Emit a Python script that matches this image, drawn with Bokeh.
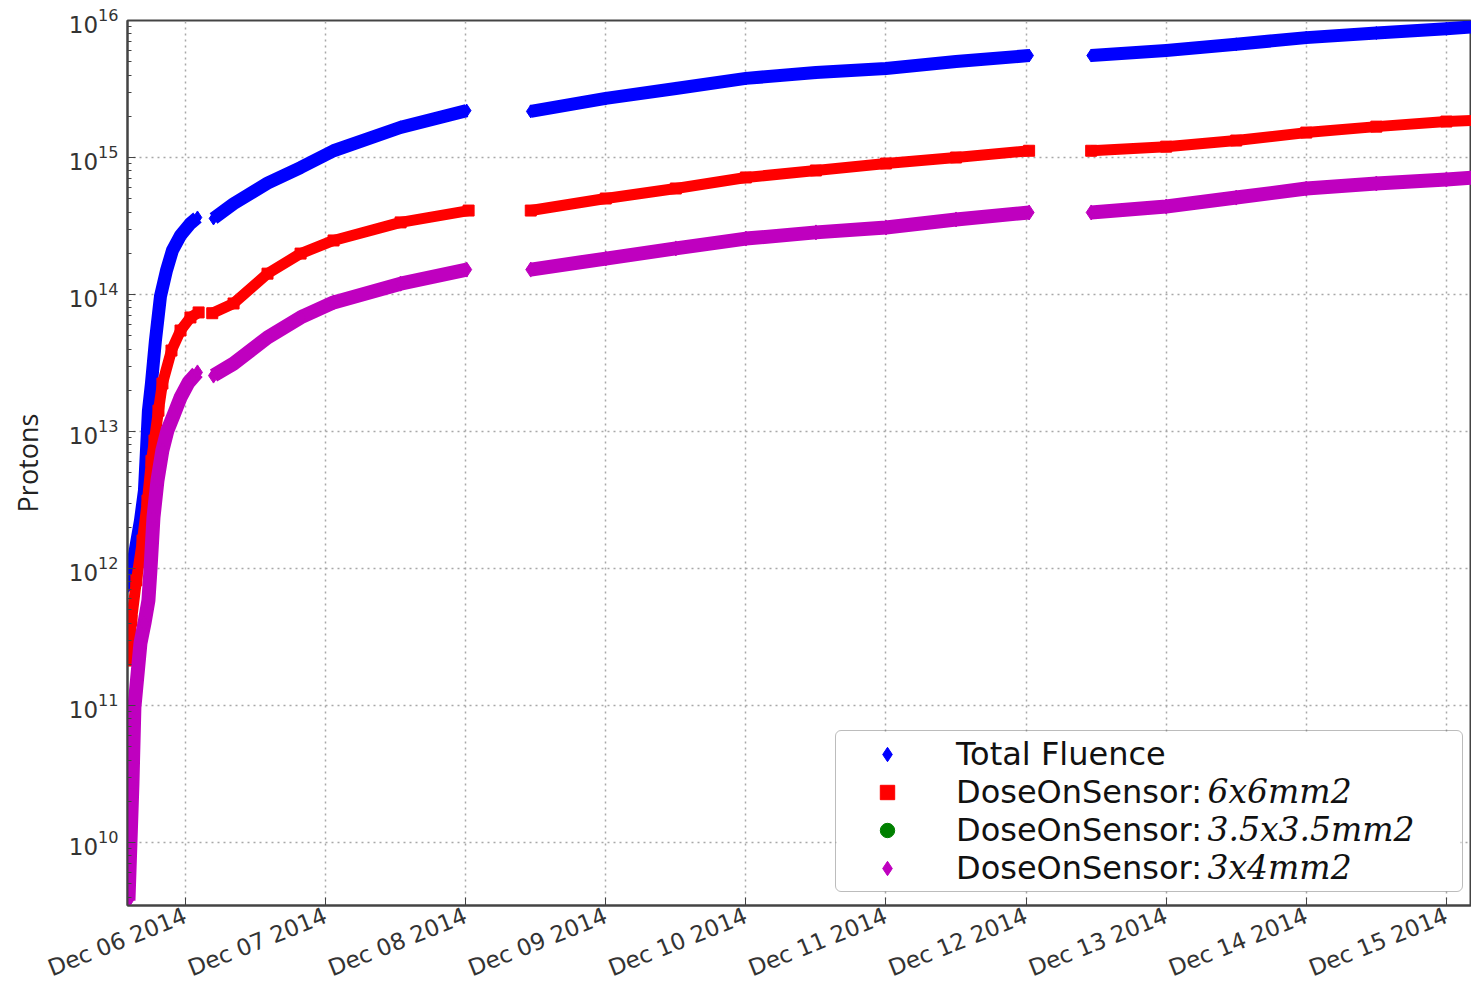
import numpy as np
import pandas as pd
from bokeh.plotting import figure
from bokeh.core.properties import value
from bokeh.models import (Range1d, FixedTicker, LogTickFormatter, DaysTicker,
                          DatetimeTickFormatter, Legend, LegendItem, BoxAnnotation)
from bokeh.embed import file_html
from bokeh.resources import INLINE

# Cumulative proton counts; None separates the data-taking periods.
fluence_t = [
    "2014-12-05 14:14", "2014-12-05 15:05", "2014-12-05 16:17", "2014-12-05 16:58",
    "2014-12-05 17:19", "2014-12-05 17:39", "2014-12-05 18:10", "2014-12-05 18:51",
    "2014-12-05 19:43", "2014-12-05 20:45", "2014-12-05 21:46", "2014-12-05 23:09",
    "2014-12-06 00:51", "2014-12-06 02:03", None,
    "2014-12-06 04:48", "2014-12-06 08:14", "2014-12-06 14:03", "2014-12-06 19:43",
    "2014-12-07 01:22", "2014-12-07 12:51", "2014-12-08 00:10", None,
    "2014-12-08 11:09", "2014-12-09 00:00", "2014-12-09 12:00", "2014-12-10 00:00",
    "2014-12-10 12:00", "2014-12-11 00:00", "2014-12-11 12:00", "2014-12-12 00:31", None,
    "2014-12-12 11:09", "2014-12-13 00:00", "2014-12-13 12:00", "2014-12-14 00:00",
    "2014-12-14 12:00", "2014-12-15 00:00", "2014-12-15 06:00",
]
fluence = [
    7.5e11, 1.14e12, 2.24e12, 3.7e12, 7.3e12, 1.42e13, 2.24e13, 4.6e13,
    9.7e13, 1.5e14, 2.1e14, 2.7e14, 3.3e14, 3.65e14, None,
    3.59e14, 4.6e14, 6.5e14, 8.45e14, 1.12e15, 1.66e15, 2.2e15, None,
    2.17e15, 2.7e15, 3.19e15, 3.78e15, 4.17e15, 4.47e15, 5.02e15, 5.55e15, None,
    5.55e15, 6.04e15, 6.7e15, 7.5e15, 8.1e15, 8.7e15, 9.1e15,
]

sensor_6x6_t = [
    "2014-12-05 14:14", "2014-12-05 14:45", "2014-12-05 15:36", "2014-12-05 16:38",
    "2014-12-05 17:29", "2014-12-05 18:10", "2014-12-05 18:41", "2014-12-05 19:22",
    "2014-12-05 20:03", "2014-12-05 21:36", "2014-12-05 23:09", "2014-12-06 00:51",
    "2014-12-06 02:15", None,
    "2014-12-06 04:35", "2014-12-06 08:14", "2014-12-06 14:03", "2014-12-06 19:43",
    "2014-12-07 01:22", "2014-12-07 12:51", "2014-12-08 00:30", None,
    "2014-12-08 11:09", "2014-12-09 00:00", "2014-12-09 12:00", "2014-12-10 00:00",
    "2014-12-10 12:00", "2014-12-11 00:00", "2014-12-11 12:00", "2014-12-12 00:31", None,
    "2014-12-12 11:09", "2014-12-13 00:00", "2014-12-13 12:00", "2014-12-14 00:00",
    "2014-12-14 12:00", "2014-12-15 00:00", "2014-12-15 06:00",
]
sensor_6x6 = [
    2.13e11, 4.17e11, 8.2e11, 1.6e12, 3.13e12, 6.1e12, 8.6e12, 1.42e13,
    2.24e13, 3.9e13, 5.46e13, 6.8e13, 7.4e13, None,
    7.3e13, 8.6e13, 1.42e14, 1.99e14, 2.48e14, 3.36e14, 4.1e14, None,
    4.1e14, 5.02e14, 5.94e14, 7.15e14, 8.04e14, 9.04e14, 1.0e15, 1.12e15, None,
    1.12e15, 1.2e15, 1.33e15, 1.52e15, 1.68e15, 1.83e15, 1.88e15,
]

sensor_3x4_t = [
    "2014-12-05 14:14", "2014-12-05 14:34", "2014-12-05 14:55", "2014-12-05 15:15",
    "2014-12-05 16:17", "2014-12-05 16:58", "2014-12-05 17:39", "2014-12-05 18:00",
    "2014-12-05 18:31", "2014-12-05 19:12", "2014-12-05 20:03", "2014-12-05 20:55",
    "2014-12-05 21:57", "2014-12-05 23:09", "2014-12-06 00:31", "2014-12-06 02:03", None,
    "2014-12-06 04:48", "2014-12-06 08:14", "2014-12-06 14:03", "2014-12-06 19:43",
    "2014-12-07 01:22", "2014-12-07 12:51", "2014-12-08 00:10", None,
    "2014-12-08 11:09", "2014-12-09 00:00", "2014-12-09 12:00", "2014-12-10 00:00",
    "2014-12-10 12:00", "2014-12-11 00:00", "2014-12-11 12:00", "2014-12-12 00:31", None,
    "2014-12-12 11:09", "2014-12-13 00:00", "2014-12-13 12:00", "2014-12-14 00:00",
    "2014-12-14 12:00", "2014-12-15 00:00", "2014-12-15 06:00",
]
sensor_3x4 = [
    3.78e9, 9.8e9, 2.7e10, 9.7e10, 2.84e11, 3.97e11, 5.84e11, 9.8e11,
    2.36e12, 4.39e12, 7.3e12, 1.02e13, 1.31e13, 1.77e13, 2.28e13, 2.7e13, None,
    2.56e13, 3.13e13, 4.85e13, 6.8e13, 8.75e13, 1.2e14, 1.52e14, None,
    1.52e14, 1.83e14, 2.17e14, 2.56e14, 2.84e14, 3.08e14, 3.53e14, 3.97e14, None,
    3.97e14, 4.39e14, 5.1e14, 5.94e14, 6.46e14, 6.9e14, 7.2e14,
]

series_names = ["Total Fluence", "DoseOnSensor:", "DoseOnSensor:", "DoseOnSensor:"]
sensor_sizes = ["6x6mm2", "3.5x3.5mm2", "3x4mm2"]
decades = list(range(10, 17))

# placement (in axis units) of the legend backdrop and of the italic sensor sizes
legend_area = ("2014-12-10 15:30", "2014-12-15 02:25", 4.6e9, 6.1e10)
size_label_x = "2014-12-13 07:04"
size_label_y = [2.36e10, 1.25e10, 6.6e9]


def to_ms(times):
    return np.array([np.nan if t is None else pd.Timestamp(t).value / 1e6 for t in times])


def to_vals(v):
    return np.array([np.nan if x is None else x for x in v], dtype=float)


p = figure(
    frame_width=1344, frame_height=885,
    x_axis_type="datetime", y_axis_type="log",
    x_range=Range1d(pd.Timestamp("2014-12-05 14:04"), pd.Timestamp("2014-12-15 04:18")),
    y_range=Range1d(3.47e9, 1e16),
    output_backend="svg", toolbar_location=None,
    min_border_left=127, min_border_right=0, min_border_top=20, min_border_bottom=82,
    background_fill_color="white", border_fill_color="white",
)

# white backdrop under the legend so the dotted grid does not show through it
left, right, bottom, top = legend_area
p.add_layout(BoxAnnotation(
    left=pd.Timestamp(left).value / 1e6, right=pd.Timestamp(right).value / 1e6,
    bottom=bottom, top=top, fill_color="white", fill_alpha=1.0,
    line_color=None, level="underlay",
))


def band(times, values, color, marker, width, size):
    x, y = to_ms(times), to_vals(values)
    p.line(x, y, line_color=color, line_width=width, line_join="round")
    return p.scatter(x, y, marker=marker, size=size, fill_color=color, line_color=color)


r_fl = band(fluence_t, fluence, "#0000ff", "diamond", 13, 13)
r_66 = band(sensor_6x6_t, sensor_6x6, "#ff0000", "square", 11, 11)
# the 3.5x3.5 mm2 sensor has no points in view, only its legend entry
r_35 = p.scatter(x=[np.nan], y=[np.nan], marker="circle", size=9,
                 fill_color="#008000", line_color="#008000")
r_34 = band(sensor_3x4_t, sensor_3x4, "#bf00bf", "diamond", 14, 15)

# italic sensor dimensions following the legend labels
p.text(
    x=[pd.Timestamp(size_label_x).value / 1e6] * len(sensor_sizes), y=size_label_y,
    text=sensor_sizes, text_font=value("DejaVu Serif"), text_font_style="italic",
    text_font_size="33px", text_color="#111111", text_baseline="middle", text_align="left",
)

# axes
p.xaxis.ticker = DaysTicker(days=list(range(1, 32)))
p.xaxis.formatter = DatetimeTickFormatter(days="%b %d %Y", months="%b %d %Y", hours="%b %d %Y")
p.xaxis.major_label_orientation = 0.38
p.xaxis.major_label_text_font = "DejaVu Sans"
p.xaxis.major_label_text_font_size = "23px"
p.xaxis.major_label_text_color = "#333333"
p.xaxis.major_label_standoff = 9

p.yaxis.ticker = FixedTicker(
    ticks=[10.0 ** k for k in decades],
    minor_ticks=[m * 10.0 ** k for k in range(9, 16) for m in range(2, 10)],
)
p.yaxis.formatter = LogTickFormatter()
p.yaxis.major_label_text_font = "DejaVu Sans"
p.yaxis.major_label_text_font_size = "23px"
p.yaxis.major_label_text_color = "#333333"
p.yaxis.major_label_standoff = 9
p.yaxis.minor_tick_in = 4
p.yaxis.minor_tick_out = 0
p.yaxis.axis_label = "Protons"
p.yaxis.axis_label_text_font = "Open Sans"
p.yaxis.axis_label_text_font_style = "normal"
p.yaxis.axis_label_text_font_size = "27px"
p.yaxis.axis_label_text_color = "#222222"
p.yaxis.axis_label_standoff = 20

for ax in (p.xaxis, p.yaxis):
    ax.axis_line_color = "#444444"
    ax.axis_line_width = 2
    ax.major_tick_line_color = "#444444"
    ax.minor_tick_line_color = "#444444"
    ax.major_tick_in = 8
    ax.major_tick_out = 0
p.xaxis.minor_tick_line_color = None

p.outline_line_color = "#444444"
p.outline_line_width = 2

p.grid.grid_line_color = "#a8a8a8"
p.grid.grid_line_dash = "2 4"
p.grid.grid_line_width = 1.5

# legend (transparent fill; the backdrop above provides the white area)
legend = Legend(
    items=[LegendItem(label=n, renderers=[r]) for n, r in zip(series_names, [r_fl, r_66, r_35, r_34])],
    location=(708, 13),
    margin=0, padding=4, spacing=0,
    glyph_width=94, glyph_height=36, label_height=36,
    label_standoff=22, label_width=502,
    label_text_font="DejaVu Sans", label_text_font_size="32px", label_text_color="#111111",
    border_line_color="#7a7a7a", border_line_width=1.5,
    background_fill_alpha=0.0,
)
legend.border_radius = 6
p.add_layout(legend)

open("out.html", "w").write(file_html(p, INLINE))
